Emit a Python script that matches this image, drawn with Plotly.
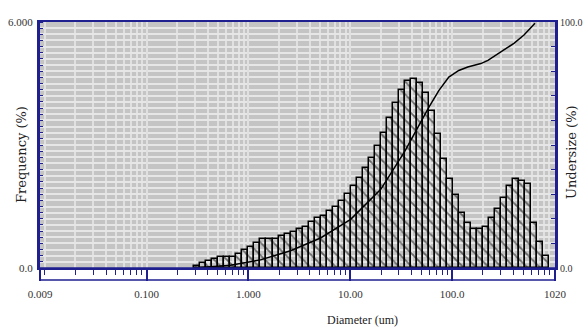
import plotly.graph_objects as go

# Size-class edges (um), 59 classes
bin_edges = [0.2944, 0.3373, 0.3864, 0.4426, 0.5070, 0.5808, 0.6653, 0.7621, 0.8730, 1.000,
             1.1455, 1.3122, 1.5031, 1.7219, 1.9724, 2.2594, 2.5882, 2.9648, 3.3963, 3.8905,
             4.4566, 5.1050, 5.8479, 6.6988, 7.6736, 8.7902, 10.069, 11.535, 13.213, 15.136,
             17.338, 19.861, 22.751, 26.062, 29.854, 34.198, 39.174, 44.875, 51.404, 58.884,
             67.453, 77.268, 88.512, 101.39, 116.14, 133.05, 152.41, 174.58, 199.99, 229.09,
             262.42, 300.61, 344.35, 394.46, 451.86, 517.61, 592.93, 679.20, 778.04, 891.25]

# Frequency (%) per class
frequency = [0.05, 0.12, 0.17, 0.23, 0.27, 0.27, 0.27, 0.35, 0.43, 0.52,
             0.60, 0.70, 0.70, 0.70, 0.78, 0.84, 0.88, 0.95, 1.00, 1.11,
             1.21, 1.28, 1.38, 1.50, 1.64, 1.80, 1.99, 2.20, 2.44, 2.69,
             2.98, 3.30, 3.66, 4.02, 4.33, 4.57, 4.61, 4.51, 4.27, 3.84,
             3.26, 2.65, 2.17, 1.79, 1.34, 1.09, 0.95, 0.95, 1.01, 1.21,
             1.44, 1.70, 2.01, 2.18, 2.11, 2.06, 1.09, 0.64, 0.29]

# Undersize curve (cumulative %)
undersize_d = [0.294, 0.665, 1.31, 2.59, 5.10, 10.07, 19.9, 34.2, 58.9, 73.8,
               92.6, 116, 142, 191, 224, 301, 403, 506, 649]
undersize_pct = [0.0, 1.1, 3.3, 7.0, 12.2, 19.8, 32.0, 47.4, 65.3, 72.1,
                 77.6, 80.3, 81.7, 83.1, 84.4, 87.8, 91.3, 94.7, 99.5]

x_tickvals = [0.009, 0.1, 1, 10, 100, 1020]
x_ticktext = ["0.009", "0.100", "1.000", "10.00", "100.0", "1020"]
y_tickvals = [0, 6]
y_ticktext = ["0.0", "6.000"]
y2_tickvals = [0, 10, 20, 30, 40, 50, 60, 70, 80, 90, 100]
y2_ticktext = ["0.0", "", "", "", "", "", "", "", "", "", "100.0"]

centers = [(a + b) / 2 for a, b in zip(bin_edges[:-1], bin_edges[1:])]
widths = [b - a for a, b in zip(bin_edges[:-1], bin_edges[1:])]

NAVY = "#1f1f8f"
TICKFONT = dict(family="Liberation Serif", size=11, color="#333333")

fig = go.Figure()
fig.add_trace(go.Bar(
    x=centers, y=frequency, width=widths, yaxis="y",
    marker=dict(color="rgba(0,0,0,0)", line=dict(color="black", width=1.5),
                pattern=dict(shape="\\", fgcolor="black", bgcolor="rgba(0,0,0,0)",
                             size=9, solidity=0.2)),
    showlegend=False, hoverinfo="skip"))
fig.add_trace(go.Scatter(
    x=undersize_d, y=undersize_pct, yaxis="y2", mode="lines",
    line=dict(color="black", width=1.5), showlegend=False, hoverinfo="skip"))

fig.update_layout(
    width=583, height=332,
    margin=dict(l=40, r=28, t=22, b=64, autoexpand=False),
    paper_bgcolor="white", plot_bgcolor="#c4c4c4",
    bargap=0,
    xaxis=dict(type="log", range=[-2.0458, 3.0086], automargin=False,
               tickmode="array", tickvals=x_tickvals, ticktext=x_ticktext,
               ticks="outside", ticklen=11, tickwidth=1.5, tickcolor=NAVY,
               ticklabelstandoff=4, tickfont=TICKFONT,
               showline=True, linecolor=NAVY, linewidth=2, mirror=True,
               showgrid=True, gridcolor="#e0e0e0", gridwidth=1.5,
               zeroline=False,
               minor=dict(dtick="D1", ticks="outside", ticklen=5, tickcolor=NAVY,
                          tickwidth=1.2, showgrid=True, gridcolor="#e0e0e0", gridwidth=1.5)),
    yaxis=dict(range=[0, 6], tickmode="array", tickvals=y_tickvals, ticktext=y_ticktext,
               ticks="", tickfont=TICKFONT, ticklabelstandoff=2, automargin=False,
               showline=True, linecolor=NAVY, linewidth=3,
               showgrid=False, zeroline=False,
               minor=dict(dtick=0.15, ticks="inside", ticklen=3, tickcolor=NAVY,
                          showgrid=True, gridcolor="#e6e6e6", gridwidth=2)),
    yaxis2=dict(range=[0, 100], overlaying="y", side="right", automargin=False,
                tickmode="array", tickvals=y2_tickvals, ticktext=y2_ticktext,
                ticks="inside", ticklen=4, tickcolor=NAVY,
                tickfont=dict(family="Liberation Serif", size=10, color="#333333"),
                ticklabelstandoff=0,
                showline=True, linecolor=NAVY, linewidth=3,
                showgrid=False, zeroline=False),
    shapes=[dict(type="rect", xref="paper", yref="paper", x0=0, x1=1,
                 y0=-12 / 246, y1=0, line=dict(color=NAVY, width=1.5))],
    annotations=[
        dict(text="Frequency (%)", textangle=-90, xref="paper", yref="paper",
             x=(21 - 40) / 515, y=(268 - 155) / 246, showarrow=False,
             xanchor="center", yanchor="middle",
             font=dict(family="DejaVu Serif", size=13, color="#222222")),
        dict(text="Undersize (%)", textangle=-90, xref="paper", yref="paper",
             x=(571 - 40) / 515, y=(268 - 152) / 246, showarrow=False,
             xanchor="center", yanchor="middle",
             font=dict(family="DejaVu Serif", size=13, color="#222222")),
        dict(text="Diameter (um)", xref="paper", yref="paper",
             x=(362 - 40) / 515, y=-(320 - 268) / 246, showarrow=False,
             xanchor="center", yanchor="middle",
             font=dict(family="Liberation Serif", size=12, color="#222222")),
    ],
)

fig.write_html("out.html", config={"displayModeBar": False},
               post_script="document.body.style.margin='0';document.body.style.padding='0';")
